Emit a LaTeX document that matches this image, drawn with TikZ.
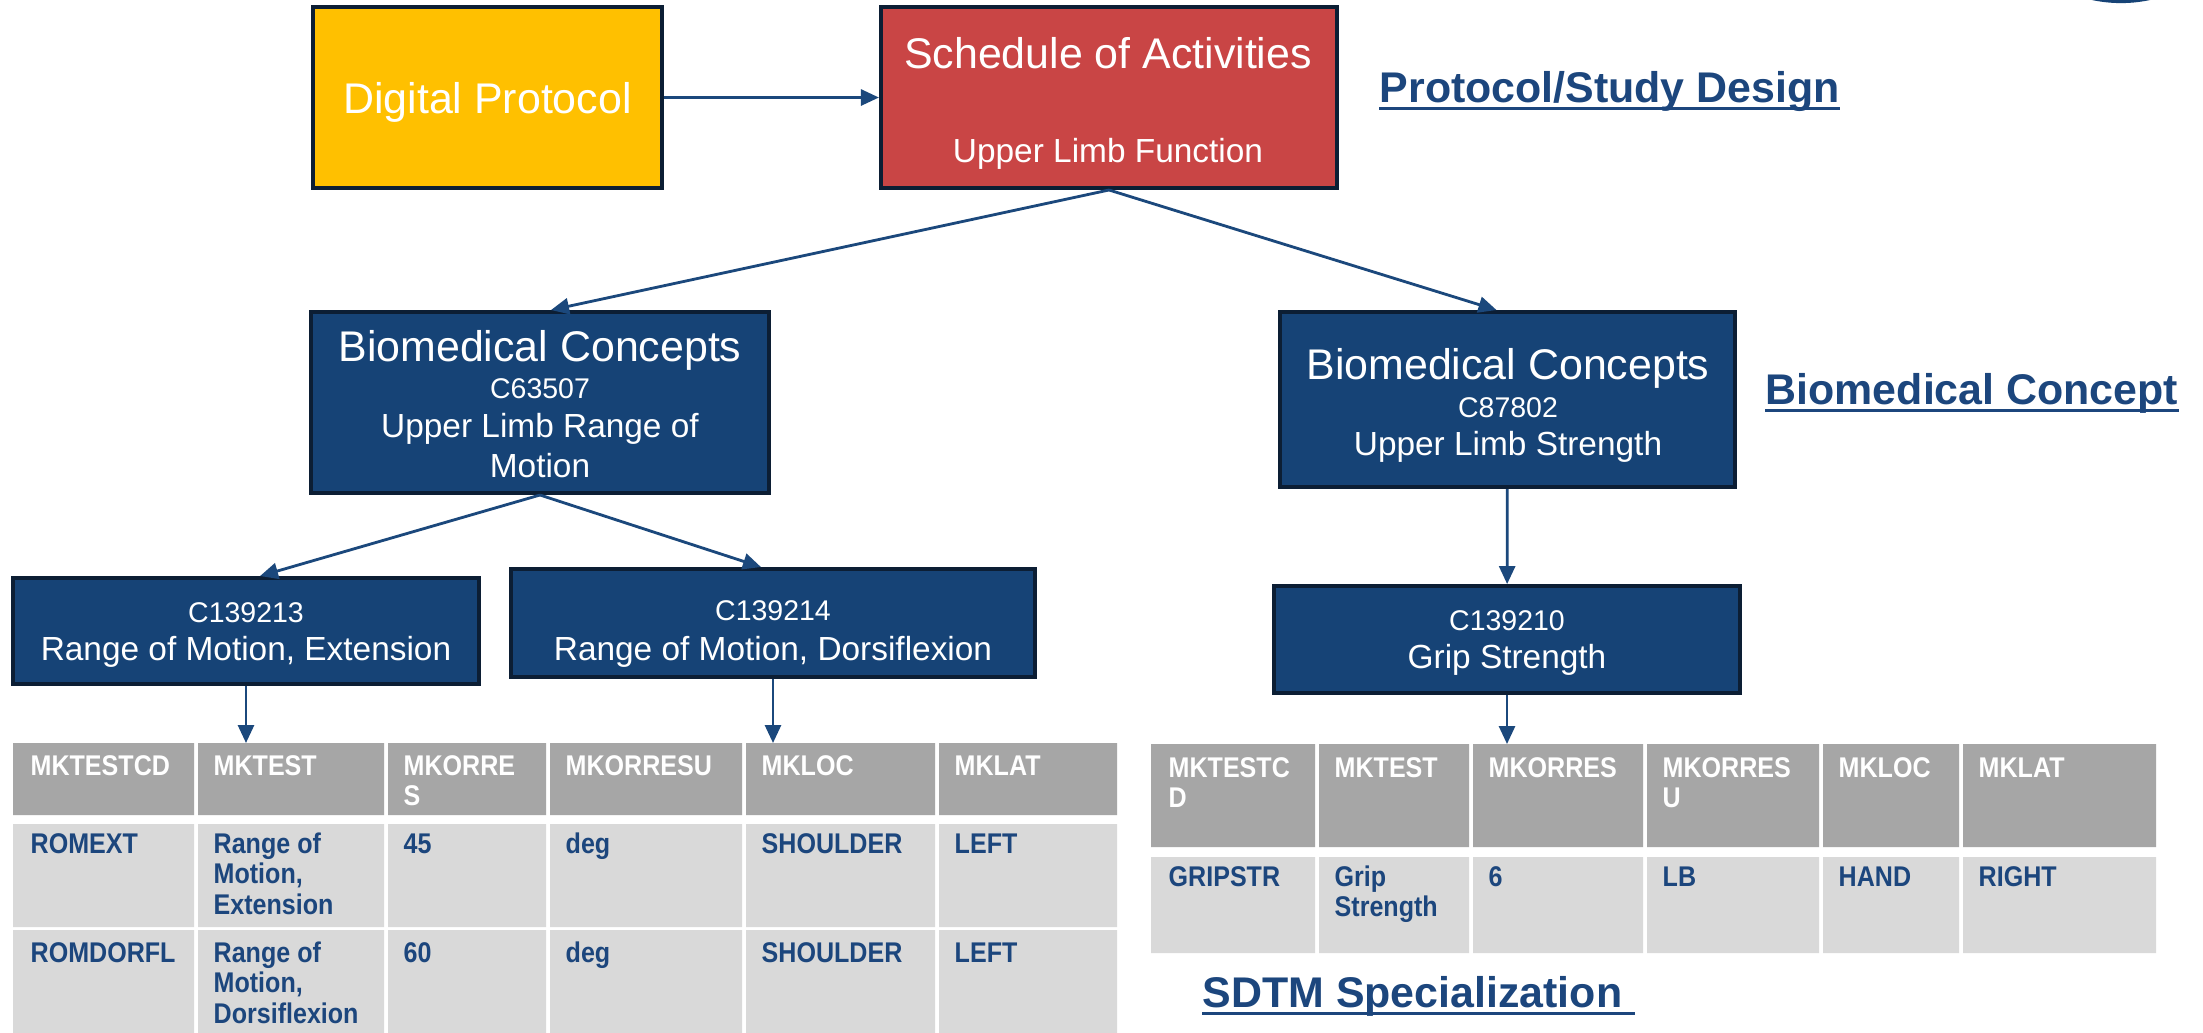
\documentclass[tikz,border=0pt]{standalone}
\usepackage{fontspec}
\setmainfont{Liberation Sans}
\usepackage{graphicx}
\usetikzlibrary{arrows.meta,calc}

\definecolor{protoyellow}{HTML}{FFC000}
\definecolor{soared}{HTML}{C94545}
\definecolor{bcnavy}{RGB}{22,67,118}
\definecolor{boxline}{RGB}{12,30,52}
\definecolor{linkblue}{RGB}{27,72,124}
\definecolor{headgray}{HTML}{A6A6A6}
\definecolor{rowgray}{HTML}{D9D9D9}
\definecolor{inkblue}{RGB}{28,70,125}

\newcommand{\bigtxt}{\fontsize{12.2}{14.6}\selectfont}
\newcommand{\midtxt}{\fontsize{9.5}{11.4}\selectfont}
\newcommand{\codetxt}{\fontsize{8.1}{9.7}\selectfont}
\newcommand{\tabtxt}[1]{\scalebox{0.88}[1]{\fontsize{8.1}{8.8}\selectfont\bfseries\begin{tabular}[t]{@{}l@{}}#1\end{tabular}}}

\tikzset{
  pbox/.style={draw=boxline, line width=1.1pt, inner sep=0pt},
  boxtxt/.style={text=white, inner sep=0pt, anchor=base},
  link/.style={draw=linkblue, line width=0.8pt, -{Triangle[length=0.18cm,width=0.16cm]}},
  headtxt/.style={text=white, inner sep=0pt, anchor=base west},
  celltxt/.style={text=inkblue, inner sep=0pt, anchor=base west},
  layerlbl/.style={text=inkblue, font=\bfseries\bigtxt, inner sep=0pt, anchor=base west},
  uline/.style={draw=inkblue, line width=0.85pt}
}

\begin{document}
\begin{tikzpicture}[x=0.01cm, y=-0.01cm]
  \useasboundingbox (0,0) rectangle (2203,1032);
  \clip (0,0) rectangle (2203,1032);
  \fill[white] (0,0) rectangle (2203,1032);
  \fill[bcnavy] (2121,-134) circle (1.37cm);

  % protocol level
  \node[pbox, fill=protoyellow, minimum width=3.49cm, minimum height=1.81cm] (dp) at (487.5,97.5) {};
  \node[boxtxt, font=\bigtxt] (dpt) at (487.5,113) {Digital Protocol};
  \node[pbox, fill=soared, minimum width=4.56cm, minimum height=1.81cm] (soa) at (1109,97.5) {};
  \node[boxtxt, font=\bigtxt] (soat1) at (1108,68) {Schedule of Activities};
  \node[boxtxt, font=\midtxt] (soat2) at (1108,162) {Upper Limb Function};
  \node[layerlbl] (psd) at (1379,102) {Protocol/Study Design};
  \draw[uline] ($(psd.base west)+(0,6)$) -- ($(psd.base east)+(0,6)$);

  % biomedical concepts
  \node[pbox, fill=bcnavy, minimum width=4.58cm, minimum height=1.81cm] (bcl) at (540,402.5) {};
  \node[boxtxt, font=\bigtxt] (bclt1) at (540,361) {Biomedical Concepts};
  \node[boxtxt, font=\codetxt] (bclt2) at (540,398) {C63507};
  \node[boxtxt, font=\midtxt] (bclt3) at (540,437) {Upper Limb Range of};
  \node[boxtxt, font=\midtxt] (bclt4) at (540,477) {Motion};
  \node[pbox, fill=bcnavy, minimum width=4.55cm, minimum height=1.75cm] (bcr) at (1507.5,399.5) {};
  \node[boxtxt, font=\bigtxt] (bcrt1) at (1508,379) {Biomedical Concepts};
  \node[boxtxt, font=\codetxt] (bcrt2) at (1508,417) {C87802};
  \node[boxtxt, font=\midtxt] (bcrt3) at (1508,455) {Upper Limb Strength};
  \node[layerlbl] (bclbl) at (1765,404) {Biomedical Concept};
  \draw[uline] ($(bclbl.base west)+(0,6)$) -- ($(bclbl.base east)+(0,6)$);

  % concept codes
  \node[pbox, fill=bcnavy, minimum width=4.66cm, minimum height=1.06cm] (rom1) at (246,631) {};
  \node[boxtxt, font=\codetxt] (rom1t1) at (246,622) {C139213};
  \node[boxtxt, font=\midtxt] (rom1t2) at (246,660) {Range of Motion, Extension};
  \node[pbox, fill=bcnavy, minimum width=5.24cm, minimum height=1.08cm] (rom2) at (773,623) {};
  \node[boxtxt, font=\codetxt] (rom2t1) at (773,620) {C139214};
  \node[boxtxt, font=\midtxt] (rom2t2) at (773,660) {Range of Motion, Dorsiflexion};
  \node[pbox, fill=bcnavy, minimum width=4.66cm, minimum height=1.07cm] (grip) at (1507,639.5) {};
  \node[boxtxt, font=\codetxt] (gript1) at (1507,630) {C139210};
  \node[boxtxt, font=\midtxt] (gript2) at (1507,668) {Grip Strength};

  \coordinate (ltab1) at (246,743);
  \coordinate (ltab2) at (773,743);
  \coordinate (rtab) at (1507,744);

  \draw[link] (dp) -- (soa);
  \draw[link] (soa.south) -- ([xshift=0.11cm]bcl.north);
  \draw[link] (soa.south) -- ([xshift=-0.11cm]bcr.north);
  \draw[link] (bcl.south) -- ([xshift=0.14cm]rom1.north);
  \draw[link] (bcl.south) -- ([xshift=-0.12cm]rom2.north);
  \draw[link] (bcr) -- (grip);
  \draw[link] (rom1) -- (ltab1);
  \draw[link] (rom2) -- (ltab2);
  \draw[link] (grip) -- (rtab);

  % sdtm left table
  \fill[headgray] (13,743) rectangle (194,815) (198,743) rectangle (384,815) (388,743) rectangle (546,815)
    (550,743) rectangle (742,815) (746,743) rectangle (935,815) (939,743) rectangle (1117,815);
  \fill[rowgray] (13,824) rectangle (194,927) (198,824) rectangle (384,927) (388,824) rectangle (546,927)
    (550,824) rectangle (742,927) (746,824) rectangle (935,927) (939,824) rectangle (1117,927);
  \fill[rowgray] (13,930) rectangle (194,1040) (198,930) rectangle (384,1040) (388,930) rectangle (546,1040)
    (550,930) rectangle (742,1040) (746,930) rectangle (935,1040) (939,930) rectangle (1117,1040);
  \node[headtxt] (lh1) at (30,775) {\tabtxt{MKTESTCD}};
  \node[headtxt] (lh2) at (213,775) {\tabtxt{MKTEST}};
  \node[headtxt] (lh3) at (403,775) {\tabtxt{MKORRE\\S}};
  \node[headtxt] (lh4) at (565,775) {\tabtxt{MKORRESU}};
  \node[headtxt] (lh5) at (761,775) {\tabtxt{MKLOC}};
  \node[headtxt] (lh6) at (954,775) {\tabtxt{MKLAT}};
  \node[celltxt] (la1) at (30,853) {\tabtxt{ROMEXT}};
  \node[celltxt] (la2) at (213,853) {\tabtxt{Range of\\Motion,\\Extension}};
  \node[celltxt] (la3) at (403,853) {\tabtxt{45}};
  \node[celltxt] (la4) at (565,853) {\tabtxt{deg}};
  \node[celltxt] (la5) at (761,853) {\tabtxt{SHOULDER}};
  \node[celltxt] (la6) at (954,853) {\tabtxt{LEFT}};
  \node[celltxt] (lb1) at (30,962) {\tabtxt{ROMDORFL}};
  \node[celltxt] (lb2) at (213,962) {\tabtxt{Range of\\Motion,\\Dorsiflexion}};
  \node[celltxt] (lb3) at (403,962) {\tabtxt{60}};
  \node[celltxt] (lb4) at (565,962) {\tabtxt{deg}};
  \node[celltxt] (lb5) at (761,962) {\tabtxt{SHOULDER}};
  \node[celltxt] (lb6) at (954,962) {\tabtxt{LEFT}};

  % sdtm right table
  \fill[headgray] (1151,744) rectangle (1315,847) (1319,744) rectangle (1469,847) (1473,744) rectangle (1643,847)
    (1647,744) rectangle (1819,847) (1823,744) rectangle (1959,847) (1963,744) rectangle (2156,847);
  \fill[rowgray] (1151,857) rectangle (1315,953) (1319,857) rectangle (1469,953) (1473,857) rectangle (1643,953)
    (1647,857) rectangle (1819,953) (1823,857) rectangle (1959,953) (1963,857) rectangle (2156,953);
  \node[headtxt] (rh1) at (1168,777) {\tabtxt{MKTESTC\\D}};
  \node[headtxt] (rh2) at (1334,777) {\tabtxt{MKTEST}};
  \node[headtxt] (rh3) at (1488,777) {\tabtxt{MKORRES}};
  \node[headtxt] (rh4) at (1662,777) {\tabtxt{MKORRES\\U}};
  \node[headtxt] (rh5) at (1838,777) {\tabtxt{MKLOC}};
  \node[headtxt] (rh6) at (1978,777) {\tabtxt{MKLAT}};
  \node[celltxt] (ra1) at (1168,886) {\tabtxt{GRIPSTR}};
  \node[celltxt] (ra2) at (1334,886) {\tabtxt{Grip\\Strength}};
  \node[celltxt] (ra3) at (1488,886) {\tabtxt{6}};
  \node[celltxt] (ra4) at (1662,886) {\tabtxt{LB}};
  \node[celltxt] (ra5) at (1838,886) {\tabtxt{HAND}};
  \node[celltxt] (ra6) at (1978,886) {\tabtxt{RIGHT}};

  \node[layerlbl] (sdtm) at (1202,1007) {SDTM Specialization};
  \draw[uline] ($(sdtm.base west)+(0,6)$) -- ($(sdtm.base east)+(12,6)$);
\end{tikzpicture}
\end{document}
